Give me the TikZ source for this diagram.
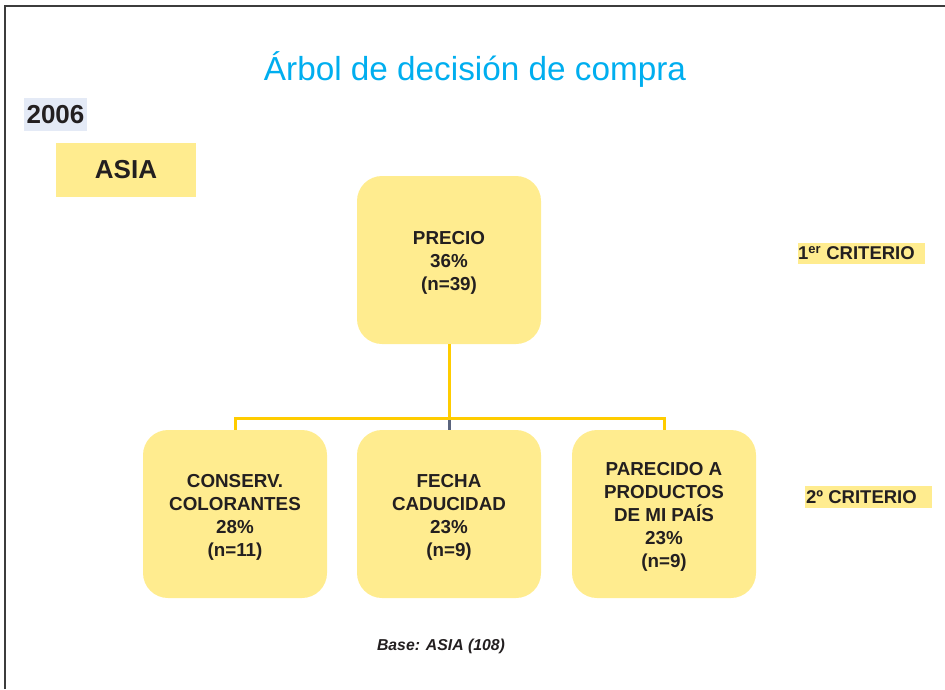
\documentclass[tikz,border=0pt]{standalone}
\usepackage{fontspec}
\setmainfont{Liberation Sans}
\definecolor{boxfill}{RGB}{255,236,143}
\definecolor{titlecyan}{RGB}{0,174,239}
\definecolor{yearbg}{RGB}{228,234,246}
\definecolor{linkyellow}{RGB}{255,204,0}
\definecolor{linkgray}{RGB}{90,100,125}
\definecolor{txt}{RGB}{35,31,32}
\definecolor{frame}{RGB}{60,60,60}
\tikzset{
  critbox/.style={fill=boxfill, rounded corners=25pt, minimum width=184pt, minimum height=168pt, inner sep=0pt},
  crittext/.style={font=\fontsize{18.8}{23}\selectfont\bfseries, text=txt, align=center, yshift=-3pt},
  link/.style={draw=linkyellow, line width=3pt},
  critlabel/.style={font=\fontsize{18.5}{22}\selectfont\bfseries, text=txt, inner sep=0pt, anchor=west},
  critbg/.style={fill=boxfill, minimum width=127pt, inner sep=0pt, anchor=west}
}
\begin{document}
\begin{tikzpicture}[x=1pt,y=-1pt]
\useasboundingbox (0,0) rectangle (945,689);
\draw[frame, line width=1.5pt] (5,689) -- (5,6) -- (945,6);
\node[text=titlecyan, font=\fontsize{33.3}{36}\selectfont] (title) at (475,70) {Árbol de decisión de compra};
\node[fill=yearbg, minimum width=63pt, minimum height=33pt, inner sep=0pt, font=\fontsize{26}{30}\selectfont\bfseries, text=txt] (year) at (55.5,114.5) {2006};
\node[fill=boxfill, minimum width=140pt, minimum height=54pt, inner sep=0pt, font=\fontsize{26}{30}\selectfont\bfseries, text=txt] (asia) at (126,170) {ASIA};
% boxes
\node[critbox] (precio) at (449,260) {};
\node[crittext] (precioT) at (precio.center) {PRECIO\\36\%\\(n=39)};
\node[critbox] (conserv) at (235,514) {};
\node[crittext] (conservT) at (conserv.center) {CONSERV.\\COLORANTES\\28\%\\(n=11)};
\node[critbox] (fecha) at (449,514) {};
\node[crittext] (fechaT) at (fecha.center) {FECHA\\CADUCIDAD\\23\%\\(n=9)};
\node[critbox] (parecido) at (664,514) {};
\node[crittext] (parecidoT) at (parecido.center) {PARECIDO A\\PRODUCTOS\\DE MI PAÍS\\23\%\\(n=9)};
% connectors
\coordinate (bus) at (449,418);
\draw[link] (precio.south) -- (bus);
\draw[link] (conserv.north) |- (bus) -| (parecido.north);
\draw[draw=linkgray, line width=3pt] ([yshift=-1.5pt]bus) -- (fecha.north);
% criteria labels
\node[critbg, minimum height=21pt] (c1bg) at (798,253) {};
\node[critlabel] (c1) at (798,253) {1\textsuperscript{er} CRITERIO};
\node[critbg, minimum height=22pt] (c2bg) at (805,497) {};
\node[critlabel] (c2) at (806,497) {2º CRITERIO};
\node[font=\fontsize{15.8}{18}\selectfont\bfseries\itshape, text=txt] (base) at (441,646) {Base: ASIA (108)};
\end{tikzpicture}
\end{document}
